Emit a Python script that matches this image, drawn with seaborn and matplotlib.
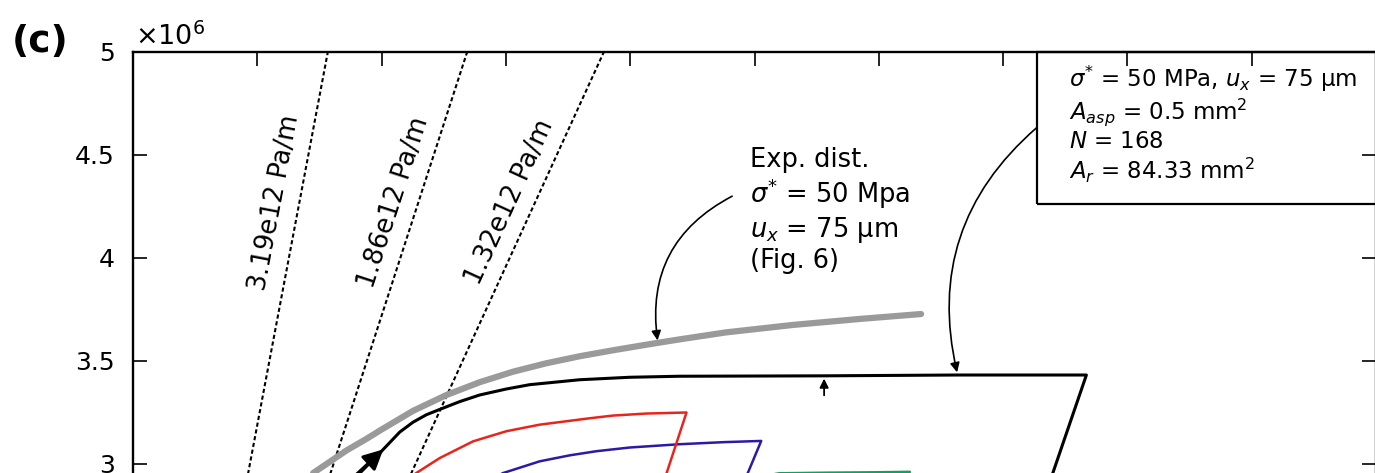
import numpy as np
import pandas as pd
import matplotlib.pyplot as plt
import seaborn as sns
from matplotlib.patches import Rectangle

# closure u (µm) vs nominal pressure (MPa, axis shows x10^6 Pa)
exp_x = [1.449, 1.718, 1.878, 1.985, 2.253, 2.522, 2.789, 3.057, 3.325, 3.593, 3.861, 4.129, 4.397,
         4.772, 5.308, 5.844, 6.340]
exp_y = [2.956, 3.066, 3.122, 3.162, 3.258, 3.335, 3.397, 3.448, 3.489, 3.523, 3.552, 3.579, 3.605,
         3.639, 3.675, 3.704, 3.728]

black_x = [1.70, 1.825, 1.985, 2.146, 2.253, 2.360, 2.468, 2.629, 2.789, 3.003, 3.191, 3.593,
           3.995, 4.397, 5.56, 6.63, 7.67, 7.40, 7.20]
black_y = [2.88, 2.956, 3.053, 3.155, 3.203, 3.239, 3.265, 3.303, 3.335, 3.364, 3.385, 3.409,
           3.421, 3.426, 3.428, 3.432, 3.432, 2.956, 2.61]

red_x = [2.10, 2.279, 2.468, 2.736, 3.003, 3.272, 3.674, 3.859, 4.130, 4.453, 4.293, 4.18]
red_y = [2.88, 2.956, 3.029, 3.110, 3.159, 3.191, 3.222, 3.235, 3.245, 3.250, 2.956, 2.75]

blue_x = [2.80, 2.977, 3.272, 3.513, 3.727, 3.995, 4.397, 4.750, 5.054, 4.946, 4.85]
blue_y = [2.90, 2.956, 3.013, 3.042, 3.062, 3.080, 3.096, 3.106, 3.112, 2.956, 2.83]

green_x = [4.95, 5.20, 5.60, 6.00, 6.25, 6.15]
green_y = [2.93, 2.955, 2.958, 2.960, 2.962, 2.88]

stiffness = [3.19e12, 1.86e12, 1.32e12]  # Pa/m

sns.set_theme(style='ticks')
plt.rcParams['font.family'] = ['DejaVu Sans']
plt.rcParams['text.color'] = 'black'

fig = plt.figure(figsize=(13.75, 4.73), dpi=100)
# axes runs from 0 to 5e6 Pa, only the top part is in the picture
ax = fig.add_axes([133/1375, 1 - 52/473 - 1030/473, 1243/1375, 1030/473])

# stiffness guide lines through the origin
for k in stiffness:
    s = k * 1e-12  # MPa per µm
    xs = np.array([0, 5 / s])
    ax.plot(xs, s * xs, color='black', lw=1.5, ls=(0, (2, 1.3)))
    ax.text(4.27 / s - 0.2, 4.27, f'{k/1e12:.2f}e12 Pa/m', fontsize=18.5,
            rotation=np.degrees(np.arctan(s)), transform_rotates_text=True,
            rotation_mode='anchor', ha='center', va='center')

sns.lineplot(x=exp_x, y=exp_y, sort=False, estimator=None, color='#9a9a9a', lw=4.5, ax=ax)
sns.lineplot(x=green_x, y=green_y, sort=False, estimator=None, color='#12a060', lw=1.8, ax=ax)
sns.lineplot(x=blue_x, y=blue_y, sort=False, estimator=None, color='#2b1aa5', lw=1.8, ax=ax)
sns.lineplot(x=red_x, y=red_y, sort=False, estimator=None, color='#e8251c', lw=1.8, ax=ax)
sns.lineplot(x=black_x, y=black_y, sort=False, estimator=None, color='black', lw=2.2, ax=ax)

# direction arrow on the loading curve
ax.annotate('', xy=(2.03, 3.08), xytext=(1.78, 2.94),
            arrowprops=dict(arrowstyle='-|>', color='black', lw=2.2, mutation_scale=30))
ax.annotate('', xy=(5.56, 3.428), xytext=(5.56, 3.32),
            arrowprops=dict(arrowstyle='-|>', color='black', lw=1.3, mutation_scale=13))

ax.text(4.96, 4.54, 'Exp. dist.\n' + r'$\sigma^{*}$ = $\mathit{50}$ Mpa' + '\n' +
        r'$u_x$ = 75 µm' + '\n(Fig. 6)', fontsize=18.5, va='top', ha='left', linespacing=1.15)
ax.annotate('', xy=(4.22, 3.60), xytext=(4.82, 4.30),
            arrowprops=dict(arrowstyle='-|>', color='black', lw=1.2, mutation_scale=14,
                            connectionstyle='arc3,rad=0.35', shrinkA=0, shrinkB=0))

box = Rectangle((0.727, 0.8524), 0.32, 0.1476, transform=ax.transAxes, fill=False,
                edgecolor='black', lw=1.6, clip_on=False, zorder=5)
ax.add_patch(box)
ax.text(7.53, 4.945, r'$\sigma^{*}$ = $\mathit{50}$ MPa, $u_x$ = $\mathit{75}$ µm' + '\n' +
        r'$A_{asp}$ = $\mathit{0.5}$ mm$^2$' + '\n' + r'$N$ = $\mathit{168}$' + '\n' +
        r'$A_r$ = $\mathit{84.33}$ mm$^2$', fontsize=16.5, va='top', ha='left', linespacing=1.12)
ax.annotate('', xy=(6.63, 3.445), xytext=(7.267, 4.631),
            arrowprops=dict(arrowstyle='-|>', color='black', lw=1.2, mutation_scale=14,
                            connectionstyle='arc3,rad=0.3', shrinkA=0, shrinkB=0))

ax.set_xlim(0, 10)
ax.set_ylim(0, 5)
ax.set_xticks(np.arange(0, 10.1, 1))
ax.set_yticks(np.arange(0, 5.01, 0.5))
ax.yaxis.set_major_formatter(plt.FuncFormatter(lambda v, p: f'{v:g}'))
ax.tick_params(direction='in', top=True, right=True, length=10, width=1.2,
               labelsize=18, pad=13, colors='black')
for sp in ax.spines.values():
    sp.set_linewidth(1.7)
    sp.set_color('black')
ax.set_facecolor('white')

fig.text(12/1375, 1 - 42/473, '(c)', fontsize=27, fontweight='bold', va='center')
fig.text(135/1375, 1 - 37/473, r'$\times10^{6}$', fontsize=19.5, va='center')

fig.savefig('out.png', dpi=100, facecolor='white')
